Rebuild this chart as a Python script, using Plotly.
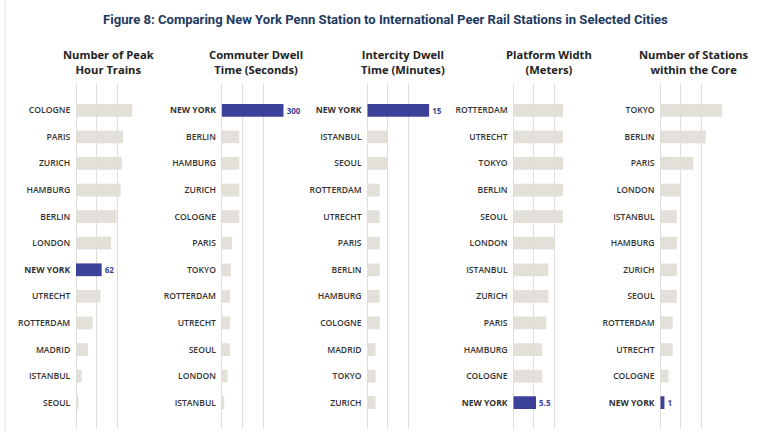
import plotly.graph_objects as go

# ---------------- data ----------------
titles = [
    ["Number of Peak", "Hour Trains"],
    ["Commuter Dwell", "Time (Seconds)"],
    ["Intercity Dwell", "Time (Minutes)"],
    ["Platform Width", "(Meters)"],
    ["Number of Stations", "within the Core"],
]

peak_cities = ["COLOGNE", "PARIS", "ZURICH", "HAMBURG", "BERLIN", "LONDON", "NEW YORK",
               "UTRECHT", "ROTTERDAM", "MADRID", "ISTANBUL", "SEOUL"]
peak_values = [136, 114, 111, 108, 98, 85, 62, 59, 40, 29, 14, 6]

commuter_cities = ["NEW YORK", "BERLIN", "HAMBURG", "ZURICH", "COLOGNE", "PARIS", "TOKYO",
                   "ROTTERDAM", "UTRECHT", "SEOUL", "LONDON", "ISTANBUL"]
commuter_values = [300, 85, 85, 85, 85, 50, 45, 40, 40, 40, 28, 12]

intercity_cities = ["NEW YORK", "ISTANBUL", "SEOUL", "ROTTERDAM", "UTRECHT", "PARIS", "BERLIN",
                    "HAMBURG", "COLOGNE", "MADRID", "TOKYO", "ZURICH"]
intercity_values = [15, 5, 5, 3, 3, 3, 3, 3, 3, 2, 2, 2]

platform_cities = ["ROTTERDAM", "UTRECHT", "TOKYO", "BERLIN", "SEOUL", "LONDON", "ISTANBUL",
                   "ZURICH", "PARIS", "HAMBURG", "COLOGNE", "NEW YORK"]
platform_values = [12, 12, 12, 12, 12, 10, 8.5, 8.5, 8, 7, 7, 5.5]

stations_cities = ["TOKYO", "BERLIN", "PARIS", "LONDON", "ISTANBUL", "HAMBURG", "ZURICH",
                   "SEOUL", "ROTTERDAM", "UTRECHT", "COLOGNE", "NEW YORK"]
stations_values = [15, 11, 8, 5, 4, 4, 4, 4, 3, 3, 2, 1]

grid_steps = [50, 100, 5, 5, 5]

# ---------------- style ----------------
W, H = 768, 432
NY_COLOR = "#2e3192"
GRAY_BAR = "#e1ded6"
GRID = "#dedede"
TITLE_COLOR = "#1f3a60"
LABEL_COLOR = "#333333"
FONT = "Open Sans"

panel_left_px = [76, 221.7, 367.3, 513.3, 660.3]
panel_width_px = 62
header_centers_px = [108, 256, 403, 549, 694]
y_dom = [2.7 / H, 1 - 83.7 / H]

panels = [
    (peak_cities, peak_values),
    (commuter_cities, commuter_values),
    (intercity_cities, intercity_values),
    (platform_cities, platform_values),
    (stations_cities, stations_values),
]

fig = go.Figure()
annotations = []

for i, (cities, values) in enumerate(panels):
    n = "" if i == 0 else str(i + 1)
    colors = [NY_COLOR if c == "NEW YORK" else GRAY_BAR for c in cities]
    texts = [f"{v:g}" if c == "NEW YORK" else "" for c, v in zip(cities, values)]
    fig.add_trace(go.Bar(
        x=values, y=cities, orientation="h",
        marker=dict(color=colors, line=dict(width=0)),
        opacity=0.92,
        width=0.48,
        text=texts, textposition="outside", constraintext="none",
        textfont=dict(family=FONT, size=8, color=NY_COLOR, weight=700),
        cliponaxis=False,
        xaxis="x" + n, yaxis="y" + n,
        hoverinfo="skip", showlegend=False,
    ))
    x0 = panel_left_px[i] / W
    x1 = (panel_left_px[i] + panel_width_px) / W
    step = grid_steps[i]
    fig.layout["xaxis" + n] = dict(
        domain=[x0, x1], range=[0, 3 * step], tick0=0, dtick=step,
        showticklabels=False, showgrid=True, gridcolor=GRID, gridwidth=1,
        zeroline=True, zerolinecolor=GRID, zerolinewidth=1,
        showline=False, anchor="y" + n, fixedrange=True,
    )
    fig.layout["yaxis" + n] = dict(
        domain=y_dom, anchor="x" + n, type="category",
        categoryorder="array", categoryarray=cities,
        range=[12, -1],
        tickmode="array", tickvals=cities,
        ticktext=[f"<b>{c}</b>" if c == "NEW YORK" else c for c in cities],
        tickfont=dict(family=FONT, size=8.6, color=LABEL_COLOR, weight=600),
        ticks="outside", ticklen=3, tickcolor="rgba(0,0,0,0)",
        showgrid=False, zeroline=False, showline=False, fixedrange=True,
    )
    # header (two lines)
    annotations.append(dict(
        text="<br>".join(titles[i]), x=header_centers_px[i] / W, y=1 - 61.5 / H,
        xref="paper", yref="paper", xanchor="center", yanchor="middle",
        align="center", showarrow=False,
        font=dict(family=FONT, size=11.2, color="#222222", weight=700),
    ))

annotations.append(dict(
    text="Figure 8: Comparing New York Penn Station to International Peer Rail Stations in Selected Cities",
    x=385 / W, y=1 - 19.5 / H, xref="paper", yref="paper",
    xanchor="center", yanchor="middle", showarrow=False,
    font=dict(family="Roboto", size=13.1, color=TITLE_COLOR, weight=700),
))

fig.update_layout(
    width=W, height=H,
    margin=dict(l=0, r=0, t=0, b=0),
    paper_bgcolor="white", plot_bgcolor="white",
    annotations=annotations,
    shapes=[dict(type="line", xref="paper", yref="paper", x0=5 / W, x1=5 / W,
                 y0=0, y1=1, line=dict(color="#e2e2e2", width=1))],
    bargap=0.5,
)

fig.write_html("out.html")
